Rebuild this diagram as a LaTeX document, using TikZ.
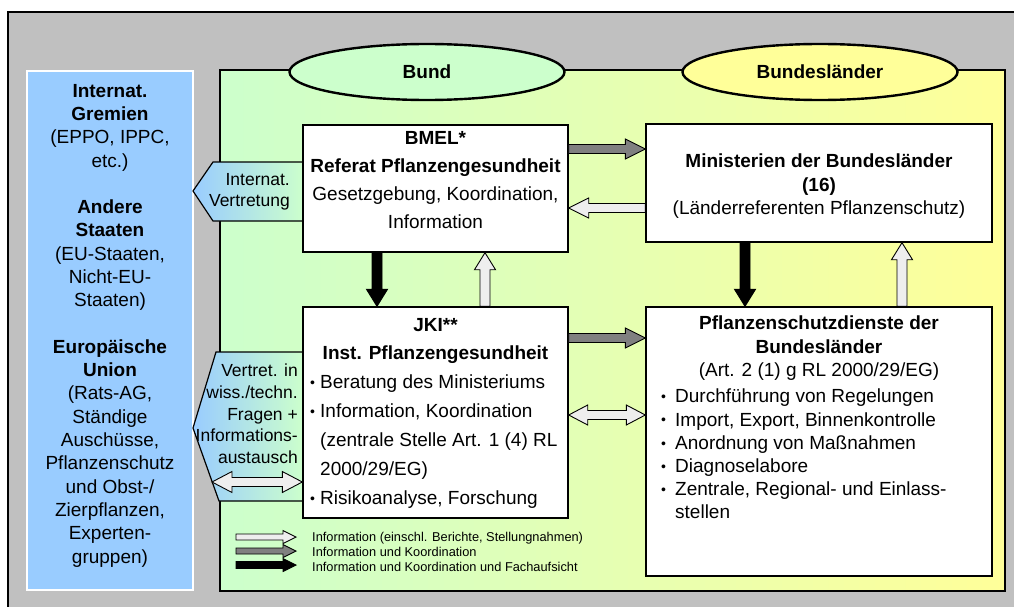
\documentclass[tikz,border=0pt]{standalone}
\usepackage{fontspec}
\setmainfont{Liberation Sans}
\usetikzlibrary{calc,shapes.geometric}
\definecolor{bgGray}{HTML}{C0C0C0}
\definecolor{euBlue}{HTML}{99CCFF}
\definecolor{lgreen}{HTML}{CCFFCC}
\definecolor{lyellow}{HTML}{FFFF99}
\definecolor{arrGray}{HTML}{808080}
\definecolor{arrWhite}{HTML}{EEEEEE}
\tikzset{
  box/.style={draw, fill=white, line width=1.4pt, rectangle, inner sep=0pt},
  arrowline/.style={draw=black, line width=0.9pt, line join=miter},
  txt/.style={inner sep=0pt, font=\fontsize{19}{23.3}\selectfont},
  lbl/.style={ellipse, draw, line width=2.4pt, inner sep=0pt, minimum width=275pt, minimum height=56pt, font=\fontsize{19}{23}\selectfont\bfseries},
  penta/.style={draw, line width=1.2pt, left color=euBlue, right color=lgreen},
}
% single fat arrow: fill, start, end, shaft half width, head half width, head length
\newcommand\fatarr[6]{%
  \coordinate (fa-s) at (#2);
  \coordinate (fa-e) at (#3);
  \coordinate (fa-h) at ($(fa-e)!#6!(fa-s)$);
  \draw[arrowline, fill=#1]
    ($(fa-s)!#4!90:(fa-e)$) -- ($(fa-h)!#4!-90:(fa-s)$) -- ($(fa-h)!#5!-90:(fa-s)$) -- (fa-e)
    -- ($(fa-h)!#5!90:(fa-s)$) -- ($(fa-h)!#4!90:(fa-s)$) -- ($(fa-s)!#4!-90:(fa-e)$) -- cycle;}
% double fat arrow
\newcommand\dblarr[6]{%
  \coordinate (da-s) at (#2);
  \coordinate (da-e) at (#3);
  \coordinate (da-h1) at ($(da-s)!#6!(da-e)$);
  \coordinate (da-h2) at ($(da-e)!#6!(da-s)$);
  \draw[arrowline, fill=#1] (da-s) -- ($(da-h1)!#5!90:(da-e)$) -- ($(da-h1)!#4!90:(da-e)$)
    -- ($(da-h2)!#4!-90:(da-s)$) -- ($(da-h2)!#5!-90:(da-s)$) -- (da-e)
    -- ($(da-h2)!#5!90:(da-s)$) -- ($(da-h2)!#4!90:(da-s)$)
    -- ($(da-h1)!#4!-90:(da-e)$) -- ($(da-h1)!#5!-90:(da-e)$) -- cycle;}
\newcommand\jbul{\makebox[10pt][l]{\raisebox{1.2pt}{\fontsize{14}{14}\selectfont •}}}
\newcommand\jind{\hspace*{10pt}}
\newcommand\pbul{\makebox[14pt][l]{\raisebox{1.2pt}{\fontsize{14}{14}\selectfont •}}}
\newcommand\pind{\hspace*{14pt}}
\begin{document}
\begin{tikzpicture}[x=1pt,y=-1pt]
\useasboundingbox (0,0) rectangle (1014,607);
\fill[white] (0,0) rectangle (1014,607);
\fill[bgGray] (8,12) rectangle (1014,607);
\draw[line width=1.5pt] (8,607) -- (8,12) -- (1014,12);
% left blue panel
\draw[fill=euBlue, draw=white, line width=2pt] (27,71) rectangle (193,590);
% main region
\draw[line width=2.5pt, left color=lgreen, right color=lyellow] (220,70) rectangle (1005,591);
% header ellipses
\node[lbl, fill=lgreen] (bund) at (427,72) {Bund};
\node[lbl, fill=lyellow] (laender) at (820,72) {Bundesländer};
% pentagons
\draw[penta] (303,162) -- (213,162) -- (193,191) -- (213,221) -- (303,221) -- cycle;
\draw[penta] (303,352) -- (216,352) -- (193,428) -- (219,501) -- (303,501) -- cycle;
% boxes
\node[box, minimum width=265pt, minimum height=127pt] (bmel) at (435.5,188.5) {};
\node[box, minimum width=346pt, minimum height=118pt] (mini) at (819,183) {};
\node[box, minimum width=265pt, minimum height=211pt] (jki) at (435.5,412.5) {};
\node[box, minimum width=346pt, minimum height=269pt] (psd) at (819,441.5) {};
% arrows between boxes
\fatarr{arrGray}{bmel.east |- 0,149}{mini.west |- 0,149}{4.5pt}{10pt}{20pt}
\fatarr{arrWhite}{mini.west |- 0,208}{bmel.east |- 0,208}{4.5pt}{10pt}{20pt}
\fatarr{black}{bmel.south -| 377,0}{jki.north -| 377,0}{5pt}{10.5pt}{17pt}
\fatarr{arrWhite}{jki.north -| 485,0}{bmel.south -| 485,0}{5pt}{10.5pt}{17pt}
\fatarr{black}{mini.south -| 745,0}{psd.north -| 745,0}{5pt}{10.5pt}{17pt}
\fatarr{arrWhite}{psd.north -| 902,0}{mini.south -| 902,0}{5pt}{10.5pt}{17pt}
\fatarr{arrGray}{jki.east |- 0,338}{psd.west |- 0,338}{4.5pt}{10pt}{20pt}
\dblarr{arrWhite}{jki.east |- 0,415}{psd.west |- 0,415}{4.5pt}{10pt}{19pt}
\coordinate (eutip) at (212,482);
\dblarr{arrWhite}{eutip}{jki.west |- 0,482}{4.5pt}{10.5pt}{20pt}
% texts
\node[txt, anchor=north, align=center] (blue-t) at (110,84)
  {\textbf{Internat.}\\ \textbf{Gremien}\\ (EPPO, IPPC,\\ etc.)\\[23.2pt]
   \textbf{Andere}\\ \textbf{Staaten}\\ (EU-Staaten,\\ Nicht-EU-\\ Staaten)\\[23.2pt]
   \textbf{Europäische}\\ \textbf{Union}\\ (Rats-AG,\\ Ständige\\ Auschüsse,\\ Pflanzenschutz\\ und Obst-/\\ Zierpflanzen,\\ Experten-\\ gruppen)};
\node[inner sep=0pt, anchor=north east, align=right, font=\fontsize{17.5}{21}\selectfont] (vt1) at (290,173)
  {Internat.\\ Vertretung};
\node[inner sep=0pt, anchor=north east, align=right, font=\fontsize{17.5}{21.7}\selectfont] (vt2) at (298,364)
  {Vertret. in\\ wiss./techn.\\ Fragen +\\ Informations-\\ austausch};
\node[txt, anchor=north, align=center, font=\fontsize{19}{28.2}\selectfont] (bmel-t) at (435.5,131)
  {\textbf{BMEL*}\\ \textbf{Referat Pflanzengesundheit}\\ Gesetzgebung, Koordination,\\ Information};
\node[txt, anchor=north, align=center, font=\fontsize{19}{23.5}\selectfont] (mini-t) at (819,154)
  {\textbf{Ministerien der Bundesländer}\\ \textbf{(16)}\\ (Länderreferenten Pflanzenschutz)};
\node[txt, anchor=north, align=center, font=\fontsize{19}{28}\selectfont] (jki-h) at (435.5,318)
  {\textbf{JKI**}\\ \textbf{Inst. Pflanzengesundheit}};
\node[txt, anchor=north west, align=left, font=\fontsize{19}{29}\selectfont] (jki-l) at (310,375)
  {\jbul Beratung des Ministeriums\\ \jbul Information, Koordination\\ \jind (zentrale Stelle Art. 1 (4) RL\\ \jind 2000/29/EG)\\ \jbul Risikoanalyse, Forschung};
\node[txt, anchor=north, align=center, font=\fontsize{19}{23.5}\selectfont] (psd-h) at (819,316)
  {\textbf{Pflanzenschutzdienste der}\\ \textbf{Bundesländer}\\ (Art. 2 (1) g RL 2000/29/EG)};
\node[txt, anchor=north west, align=left, font=\fontsize{19}{23.2}\selectfont] (psd-l) at (661,389)
  {\pbul Durchführung von Regelungen\\ \pbul Import, Export, Binnenkontrolle\\ \pbul Anordnung von Maßnahmen\\ \pbul Diagnoselabore\\ \pbul Zentrale, Regional- und Einlass-\\ \pind stellen};
% legend
\coordinate (lg1s) at (236,537); \coordinate (lg1e) at (296,537);
\coordinate (lg2s) at (236,551); \coordinate (lg2e) at (296,551);
\coordinate (lg3s) at (236,565); \coordinate (lg3e) at (296,565);
\fatarr{arrWhite}{lg1s}{lg1e}{3pt}{6.5pt}{13pt}
\fatarr{arrGray}{lg2s}{lg2e}{3pt}{6.5pt}{13pt}
\fatarr{black}{lg3s}{lg3e}{3.5pt}{6.5pt}{13pt}
\node[inner sep=0pt, anchor=north west, align=left, font=\fontsize{12.8}{15}\selectfont] (legend) at (312,532)
  {Information (einschl. Berichte, Stellungnahmen)\\ Information und Koordination\\ Information und Koordination und Fachaufsicht};
\end{tikzpicture}
\end{document}
